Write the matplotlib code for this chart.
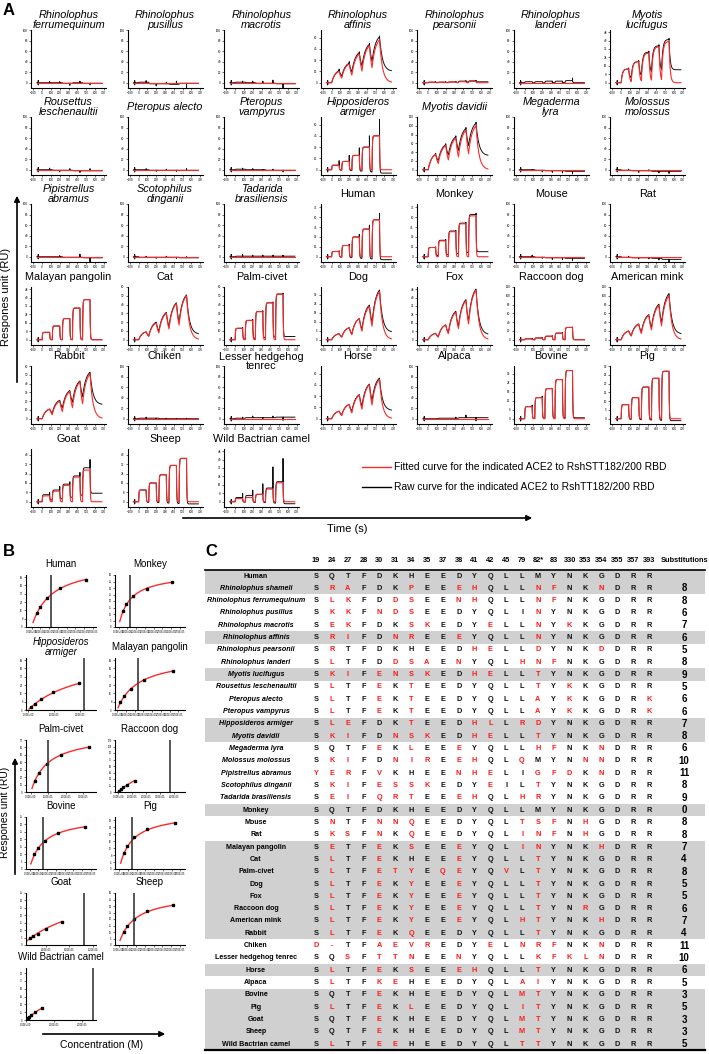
import numpy as np
import matplotlib
matplotlib.use('Agg')
import matplotlib.pyplot as plt
from matplotlib.patches import Rectangle
from matplotlib.ticker import MaxNLocator

plt.rcParams['font.family'] = ['Liberation Sans', 'DejaVu Sans']

W, H = 709, 1054
RED = '#ff2a2a'
GRAY = '#d0d0d0'

# ---------------- panel A: sensorgrams ----------------
a_titles = ['Rhinolophus\nferrumequinum', 'Rhinolophus\npusillus', 'Rhinolophus\nmacrotis',
            'Rhinolophus\naffinis', 'Rhinolophus\npearsonii', 'Rhinolophus\nlanderi',
            'Myotis\nlucifugus',
            'Rousettus\nleschenaultii', 'Pteropus alecto', 'Pteropus\nvampyrus',
            'Hipposideros\narmiger', 'Myotis davidii', 'Megaderma\nlyra', 'Molossus\nmolossus',
            'Pipistrellus\nabramus', 'Scotophilus\ndinganii', 'Tadarida\nbrasiliensis',
            'Human', 'Monkey', 'Mouse', 'Rat',
            'Malayan pangolin', 'Cat', 'Palm-civet', 'Dog', 'Fox', 'Raccoon dog', 'American mink',
            'Rabbit', 'Chiken', 'Lesser hedgehog\ntenrec', 'Horse', 'Alpaca', 'Bovine', 'Pig',
            'Goat', 'Sheep', 'Wild Bactrian camel']
a_italic = [True] * 17 + [False] * 21
a_ymax = [100, 100, 100, 70, 100, 100, 50,
          100, 100, 100, 70, 120, 100, 100,
          100, 100, 100, 80, 80, 100, 100,
          50, 60, 60, 35, 50, 120, 120,
          60, 100, 100, 70, 100, 35, 30,
          45, 45, 50]
a_kind = ['flat', 'flat', 'flat', 'slow', 'flat', 'flat', 'mid',
          'flat', 'flat', 'flat', 'square', 'slow', 'flat', 'flat',
          'flat', 'flat', 'flat', 'square', 'square', 'flat', 'flat',
          'square', 'slow', 'square', 'slow', 'slow', 'square', 'slow',
          'slow', 'flat', 'flat', 'slow', 'flat', 'square', 'square',
          'square', 'square', 'square']
a_peaks = [[0, 0, 0, 0, 0], [0, 0, 0, 0, 0], [0, 0, 0, 0, 0], [15, 25, 38, 49, 57],
           [1, 1, 1.5, 2, 2.5], [0, 0, 0, 0, 0], [13, 20, 28, 34, 39],
           [0, 0, 0, 0, 0], [0, 0, 0, 0, 0], [0, 0, 0, 0, 0], [6, 11, 19, 30, 45],
           [35, 55, 72, 90, 100], [0, 0, 0, 0, 0], [0, 0, 0, 0, 0],
           [0, 0, 0, 0, 0], [0, 0, 0, 0, 0], [0, 0, 0, 0, 0], [8, 17, 30, 42, 56],
           [14, 24, 38, 50, 62], [0, 0, 0, 0, 0], [0, 0, 0, 0, 0],
           [7, 13, 20, 30, 38], [9, 19, 30, 41, 50], [13, 22, 32, 42, 52], [4, 8, 14, 22, 32],
           [6, 14, 26, 37, 47], [2, 4, 8, 15, 28], [20, 35, 55, 78, 100],
           [11, 20, 31, 42, 51], [0, 0, 0, 0, 0], [0, 0, 0, 0, 0], [10, 19, 31, 45, 52],
           [0, 0, 0, 0, 0], [8, 14, 20, 26, 32], [8, 12, 18, 23, 27],
           [5, 9, 14, 21, 27], [10, 16, 23, 31, 37], [3, 4, 7, 12, 18]]
a_shift = [[0, 0, -1, 0, -1], [1, -2, -2, -3, -1], [1, 0, -1, -1, -2], [1, 1, 2, 2, 4],
           [0, 0, 0, 1, 1], [2, 2, 3, 3, 4], [0, 0, 1, 1, 2],
           [0, -1, -1, -2, -2], [0, -1, -1, -1, -1], [1, 0, 0, -1, -1], [0, 0, 0, 0, 0],
           [0, 2, 3, 4, 6], [0, -1, -2, -2, -3], [-1, -2, -2, -3, -3],
           [0, 0, -1, -1, -2], [-1, -1, -1, -1, -2], [1, 1, 1, 1, 1], [0, 0, 0, 0, 0],
           [0, 1, 1, 1, 2], [0, -1, -2, -2, -3], [-1, -2, -2, -3, -5],
           [0, 0, 0, 0, 0], [0, 1, 1, 1, 1], [0, 0, 0, 0, 0], [0, 0, 0, 1, 1],
           [0, 0, 1, 1, 1], [0, 0, 0, 0, 0], [0, 1, 2, 3, 5],
           [0, 1, 1, 1, 2], [1, 1, 0, 0, 0], [1, 2, 2, 2, 3], [0, 0, 1, 1, 2],
           [0, 1, 1, 2, 2], [0, 0, 0, 0, 0], [0, 0, 0, 0, 0],
           [1, 1, 1, 1, 2], [0, 0, 0, 0, 0], [1, 2, 0, 1, 1]]
a_tail = [1, 1, 1, 0.25, 0.5, 0, 0.3,
          1, 1, 1, -0.1, 0.3, 1, 1,
          1, 1, 1, -0.08, 0.12, 1, 1,
          0, 0.12, 0.07, 0.15, 0.1, 0, 0.12,
          0.3, 1, 1, 0.2, 1, 0.02, -0.04,
          0.25, -0.05, -0.1]
a_spike = [[2, 2, -4, 3, -3], [3, -4, 3, 6, -14], [2, 3, 4, 6, -10], [2, 2, 1, 1, 1],
           [1, 1, 1, 1, 1], [0, 0, -3, -3, 5], [1, 1, 1, 1, 1],
           [3, -3, 3, -3, 4], [2, -2, 2, -2, 3], [2, 2, -2, 2, -3], [6, 8, 10, 15, 22],
           [2, 2, 2, 2, 2], [-2, -3, -3, -4, -5], [2, -3, 2, -3, -4],
           [0, 2, 0, 6, -8], [2, -2, 2, -2, 2], [3, 2, 2, 2, 2], [1, 2, 4, 6, 10],
           [1, 1, 1, 1, 2], [3, -2, -3, -3, -4], [2, -2, -2, -3, -6],
           [0, 0, 0, 0, 0], [0, 0, 0, 0, 0], [1, 1, 1, 1, 1], [0, 0, 0, 0, 0],
           [0, 0, 0, 0, 0], [1, 1, 1, 1, 1], [0, 0, 0, 0, 0],
           [0, 0, 0, 0, 0], [2, -2, 1, -1, 1], [2, 3, -2, 3, -6], [0, 0, 0, 0, 0],
           [0, 0, 2, 5, -6], [1, 1, 0, 0, 0], [0, 0, 0, 0, 0],
           [2, 3, 2, 3, 7], [0, 0, 0, 0, 0], [4, 5, 10, 20, 22]]

inj_start = [0, 115, 230, 345, 460]
inj_len = 85
t_end = 680
rates = {'flat': (0.3, 0.3), 'square': (0.3, 0.3), 'mid': (0.07, 0.08), 'slow': (0.025, 0.03)}

# ---------------- panel B: steady-state fits ----------------
b_titles = ['Human', 'Monkey', 'Hipposideros\narmiger', 'Malayan pangolin', 'Palm-civet',
            'Raccoon dog', 'Bovine', 'Pig', 'Goat', 'Sheep', 'Wild Bactrian camel']
b_italic = [False, False, True] + [False] * 8
b_xlim = [(-3.2e-6, 3.68e-5), (-2e-6, 3.8e-5), (-8.1e-7, 2.62e-5), (-1.2e-6, 3.88e-5),
          (-2.8e-6, 3.72e-5), (-2.25e-6, 4.78e-5), (-2e-6, 3.8e-5), (-2.4e-6, 3.76e-5),
          (6e-6, 1.26e-4), (-2e-6, 3.8e-5), (0, 2.5e-5)]
b_xstep = [5e-6, 5e-6, 1e-5, 5e-6, 1e-5, 1e-5, 5e-6, 5e-6, 4e-5, 5e-6, 1e-5]
b_conc = [[2.8e-6, 4.8e-6, 8.8e-6, 1.64e-5, 3.12e-5],
          [2.4e-6, 4.3e-6, 8.4e-6, 1.6e-5, 3.08e-5],
          [1.19e-6, 2.59e-6, 4.89e-6, 9.69e-6, 1.955e-5],
          [1.8e-6, 3.8e-6, 7.8e-6, 1.52e-5, 3.18e-5],
          [2.08e-6, 4.6e-6, 8.92e-6, 1.71e-5, 3.33e-5],
          [5.5e-7, 1.95e-6, 3.55e-6, 6.6e-6, 1.17e-5],
          [2.76e-6, 4.68e-6, 9.04e-6, 1.61e-5, 3.19e-5],
          [2.76e-6, 4.64e-6, 8.44e-6, 1.61e-5, 3.19e-5],
          [1.28e-5, 1.74e-5, 2.6e-5, 4.03e-5, 6.77e-5],
          [3.04e-6, 4.88e-6, 8.6e-6, 1.6e-5, 3.09e-5],
          [6e-7, 1.2e-6, 1.78e-6, 3.2e-6, 5.7e-6]]
b_resp = [[13, 19.5, 28, 37.5, 45.5], [12.4, 17.6, 23.6, 29.2, 34.4],
          [2.7, 5.8, 10.2, 17, 25.5], [7.4, 13.4, 20, 29, 37.4],
          [14.5, 25.1, 37.2, 49.2, 60.3], [2.4, 6.6, 10.8, 16.6, 26.4],
          [9.8, 14.2, 18.6, 24, 28.4], [9.4, 13.5, 18.4, 23.1, 26.6],
          [4.4, 6.1, 7.7, 10.9, 15.8], [10, 14.5, 20, 25.8, 30.5],
          [3.1, 6.3, 9.4, 15.6, 23.1]]
b_kd = [1.12e-5, 6.4e-6, 2.16e-5, 1.2e-5, 9.6e-6, 3.73e-5, 7.6e-6, 7.2e-6, 1.054e-4, 8.9e-6, 2.375e-5]
b_rmax = [62.3, 41.6, 53.7, 51.5, 77.8, 110, 35.2, 32.6, 40.3, 39.3, 119]
b_ymax = [50, 40, 50, 50, 70, 120, 35, 30, 35, 40, 100]

# ---------------- panel C: alignment table ----------------
c_sites = ['19', '24', '27', '28', '30', '31', '34', '35', '37', '38', '41', '42', '45', '79',
           '82*', '83', '330', '353', '354', '355', '357', '393']
c_names = ['Human', 'Rhinolophus shameli', 'Rhinolophus ferrumequinum', 'Rhinolophus pusillus',
           'Rhinolophus macrotis', 'Rhinolophus affinis', 'Rhinolophus pearsonii',
           'Rhinolophus landeri', 'Myotis lucifugus', 'Rousettus leschenaultii',
           'Pteropus alecto', 'Pteropus vampyrus', 'Hipposideros armiger', 'Myotis davidii',
           'Megaderma lyra', 'Molossus molossus', 'Pipistrellus abramus', 'Scotophilus dinganii',
           'Tadarida brasiliensis', 'Monkey', 'Mouse', 'Rat', 'Malayan pangolin', 'Cat',
           'Palm-civet', 'Dog', 'Fox', 'Raccoon dog', 'American mink', 'Rabbit', 'Chiken',
           'Lesser hedgehog tenrec', 'Horse', 'Alpaca', 'Bovine', 'Pig', 'Goat', 'Sheep',
           'Wild Bactrian camel']
c_seqs = ['SQTFDKHEEDYQLLMYNKGDRR', 'SRAFDKPEEEHQLLNFNKNDRR', 'SLKFDDSEENHQLLNFNKGDRR',
          'SKKFNDSEEDYQLINYNKGDRR', 'SEKFDKSKEDYELLNYKKGDRR', 'SRIFDNREEEYQLLNYNKGDRR',
          'SRTFDKHEEDHELLDYNKDDRR', 'SLTFDDSAENYQLHNFNKGDRR', 'SKIFENSKEDHELLTYNKGDRR',
          'SLTFEKTEEDYQLLTYKKGDRR', 'SLTFEKTEEDYQLLAYKKGDRK', 'SLTFEKTEEDYQLLAYKKGDRK',
          'SLEFDKTEEDHLLRDYNKGDRR', 'SKIFDNSKEDHELLTYNKGDRR', 'SQTFEKLEEEYQLLHFNKNDRR',
          'SKIFDNIREEHQLQMYNNNDRR', 'YERFVKHEENHELIGFDKNDRR', 'SKIFESSKEDYEILTYNKGDRR',
          'SEIFQRTEEEHQLHRYNKGDRR', 'SQTFDKHEEDYQLLMYNKGDRR', 'SNTFNNQEEDYQLTSFNHGDRR',
          'SKSFNKQEEDYQLINFNHGDRR', 'SETFEKSEEEYQLINYNKHDRR', 'SLTFEKHEEEYQLLTYNKGDRR',
          'SLTFETYEQEYQVLTYNKGDRR', 'SLTFEKYEEEYQLLTYNKGDRR', 'SLTFEKYEEEYQLLTYNKGDRR',
          'SLTFEKYEEEYQLLTYNRGDRR', 'SLTFEKYEEEYQLHTYNKHDRR', 'SLTFEKQEEDYQLLTYNKGDRR',
          'D-TFAEVREDYELNRFNKNDRR', 'SQSFTTNEENYQLLKFKLNDRR', 'SLTFEKSEEEHQLLTYNKGDRR',
          'SLTFKEHEEDYQLAIYNKGDRR', 'SQTFEKHEEDYQLMTYNKGDRR', 'SLTFEKLEEDYQLITYNKGDRR',
          'SQTFEKHEEDYQLMTYNKGDRR', 'SQTFEKHEEDYQLMTYNKGDRR', 'SLTFEEHEEDYQLTTYNKGDRR']
c_subs = ['', '8', '8', '6', '7', '6', '5', '8', '9', '5', '6', '6', '7', '8', '6', '10', '11',
          '8', '9', '0', '8', '8', '7', '4', '8', '5', '5', '6', '7', '4', '11', '10', '6', '5',
          '3', '5', '3', '3', '5']
c_gray = [1, 1, 0, 0, 0, 1, 0, 0, 1, 0, 0, 0, 1, 1, 0, 0, 0, 0, 0, 1, 0, 0,
          1, 1, 1, 1, 1, 1, 1, 1, 0, 0, 1, 0, 1, 1, 1, 1, 1]
c_black_diff = [(3, 13), (16, 13), (17, 12)]   # substitutions printed in black

fig = plt.figure(figsize=(W / 100, H / 100), dpi=100)

# transparent overlay in pixel coordinates, drawn above the small plots
ov = fig.add_axes([0, 0, 1, 1])
ov.set_xlim(0, W)
ov.set_ylim(H, 0)
ov.axis('off')
ov.patch.set_alpha(0)
ov.set_zorder(10)


def px_axes(left, top, width, height):
    return fig.add_axes([left / W, 1 - (top + height) / H, width / W, height / H])


def style(ax):
    ax.spines['top'].set_visible(False)
    ax.spines['right'].set_visible(False)
    ax.spines['left'].set_linewidth(0.8)
    ax.spines['bottom'].set_linewidth(0.8)
    ax.tick_params(length=1.5, width=0.4, labelsize=2.2, pad=0.8)


def sensorgram(peaks, kind, shift, tail, spikes, ymax):
    ka, kd = rates[kind]
    s = 0.04 * ymax
    tf, yf = [-60.0, 0.0], [0.0, 0.0]
    tr = [-60.0, -45.0, -45.0, -45.0, -45.0, 0.0]
    yr = [0.0, 0.0, s, -s, 0.0, 0.0]
    f0 = r0 = 0.0
    for i, ts in enumerate(inj_start):
        te = ts + inj_len
        tn = inj_start[i + 1] if i < 4 else t_end
        ta = np.arange(ts, te + 1, dtype=float)
        grow = (1 - np.exp(-ka * (ta - ts))) / (1 - np.exp(-ka * inj_len))
        fa = f0 + (peaks[i] - f0) * grow
        ra = r0 + (peaks[i] + shift[i] - r0) * grow
        td = np.arange(te, tn + 1, dtype=float)
        fd = fa[-1] * np.exp(-kd * (td - te))
        rd = ra[-1] * (tail + (1 - tail) * np.exp(-kd * (td - te)))
        tf += list(ta) + list(td)
        yf += list(fa) + list(fd)
        tr += list(ta) + [te, te] + list(td)
        yr += list(ra) + [ra[-1] + spikes[i], ra[-1]] + list(rd)
        f0, r0 = fd[-1], rd[-1]
    return tf, yf, tr, yr


a_bottoms = [88, 175, 262, 345, 424, 507]
a_h = 58
for k, title in enumerate(a_titles):
    r, c = divmod(k, 7)
    left = 31 + 96.5 * c
    top = a_bottoms[r] - a_h
    ax = px_axes(left, top, 75, a_h)
    ym = a_ymax[k]
    tf, yf, tr, yr = sensorgram(a_peaks[k], a_kind[k], a_shift[k], a_tail[k], a_spike[k], ym)
    ax.plot(tr, yr, color='#111111', lw=0.7)
    ax.plot(tf, yf, color=RED, lw=0.8)
    ax.set_xlim(-127, 727)
    ax.set_ylim(-0.1 * ym, ym)
    ax.set_xticks(range(-100, 701, 100))
    ax.yaxis.set_major_locator(MaxNLocator(7, integer=True))
    style(ax)
    ty = top - 10
    if not a_italic[k] and '\n' in title:
        # common name that wraps: first line stays on the row's title line
        ty = top - 4.5
    ov.text(left + 37.5, ty, title, ha='center', va='center', fontsize=7.8,
            style='italic' if a_italic[k] else 'normal', linespacing=0.95)

# panel A labels, arrows and legend
ov.text(3, 3, 'A', fontsize=12, fontweight='bold', ha='left', va='top')
ov.annotate('', xy=(17, 193), xytext=(17, 385),
            arrowprops=dict(arrowstyle='-|>', color='black', lw=1.2, mutation_scale=8))
ov.text(6, 297, 'Respones unit (RU)', rotation=90, ha='center', va='center', fontsize=8)
ov.annotate('', xy=(535, 518), xytext=(180, 518),
            arrowprops=dict(arrowstyle='-|>', color='black', lw=1.2, mutation_scale=8))
ov.text(347, 529, 'Time (s)', ha='center', va='center', fontsize=8)
ov.plot([362, 391], [467, 467], color=RED, lw=1)
ov.text(394, 467, 'Fitted curve for the indicated ACE2 to RshSTT182/200 RBD',
        ha='left', va='center', fontsize=7.4)
ov.plot([362, 391], [487, 487], color='black', lw=1)
ov.text(394, 487, 'Raw curve for the indicated ACE2 to RshTT182/200 RBD',
        ha='left', va='center', fontsize=7.4)

# panel B
b_cols = [26, 115]
b_tops = [575, 658, 740, 817, 893, 968]
for k, title in enumerate(b_titles):
    r, c = divmod(k, 2)
    left, top = b_cols[c], b_tops[r]
    ax = px_axes(left, top, 70, 52)
    cc = np.linspace(b_conc[k][0] * 0.3, b_conc[k][-1], 120)
    ax.plot(cc, b_rmax[k] * cc / (b_kd[k] + cc), color=RED, lw=1)
    ax.plot(b_conc[k], b_resp[k], 's', color='black', ms=1.6)
    ax.axvline(b_kd[k], color='#3a3a3a', lw=1.2)
    ax.set_xlim(*b_xlim[k])
    ax.set_ylim(0, b_ymax[k])
    xt = np.arange(0, b_xlim[k][1] + 1e-12, b_xstep[k])
    xt = xt[xt >= b_xlim[k][0]]
    ax.set_xticks(xt)
    ax.set_xticklabels(['{:.2E}'.format(v) for v in xt])
    ax.yaxis.set_major_locator(MaxNLocator(8))
    style(ax)
    ax.tick_params(labelsize=1.8)
    ov.text(left + 35, top - 11, title, ha='center', va='center', fontsize=7,
            style='italic' if b_italic[k] else 'normal', linespacing=0.95)

ov.text(3, 552, 'B', fontsize=12, fontweight='bold', ha='left', va='center')
ov.annotate('', xy=(15, 755), xytext=(15, 877),
            arrowprops=dict(arrowstyle='-|>', color='black', lw=1.2, mutation_scale=8))
ov.text(5, 812, 'Respones unit (RU)', rotation=90, ha='center', va='center', fontsize=7.5)
ov.annotate('', xy=(168, 1034), xytext=(40, 1034),
            arrowprops=dict(arrowstyle='-|>', color='black', lw=1.2, mutation_scale=8))
ov.text(102, 1045, 'Concentration (M)', ha='center', va='center', fontsize=7.5)

# panel C
ov.text(205, 552, 'C', fontsize=12, fontweight='bold', ha='left', va='center')
col_x = [316 + 15.85 * j for j in range(len(c_sites))]
row_y = [576 + 12.32 * i for i in range(len(c_names))]
for j, site in enumerate(c_sites):
    ov.text(col_x[j], 561, site, ha='center', va='center', fontsize=5.3, fontweight='bold')
ov.text(684, 561, 'Substitutions', ha='center', va='center', fontsize=5.3, fontweight='bold')
human = c_seqs[0]
for i, name in enumerate(c_names):
    y = row_y[i]
    if c_gray[i]:
        ov.add_patch(Rectangle((205, y - 6.16), 500, 12.32, color=GRAY, lw=0, zorder=0))
    ov.text(256, y, name, ha='center', va='center', fontsize=5.1, fontweight='bold',
            style='italic' if 1 <= i <= 18 else 'normal')
    for j, aa in enumerate(c_seqs[i]):
        diff = aa != human[j] and (i, j) not in c_black_diff
        ov.text(col_x[j], y, aa, ha='center', va='center', fontsize=5.3, fontweight='bold',
                color='#ff1a1a' if diff else '#111111')
    ov.text(684, y, c_subs[i], ha='center', va='center', fontsize=7, fontweight='bold')
ov.plot([205, 705], [569.5, 569.5], color='black', lw=1.2)
ov.plot([205, 705], [1050, 1050], color='black', lw=1.6)

fig.savefig('out.png', dpi=100)
